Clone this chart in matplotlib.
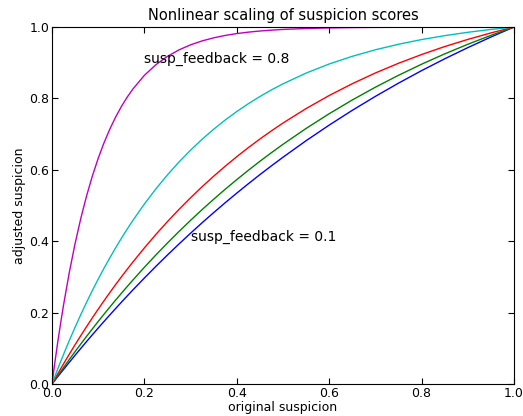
import numpy as np
import matplotlib
matplotlib.use("Agg")
import matplotlib.pyplot as plt

orig = [0.0, 0.00625, 0.0125, 0.01875, 0.025, 0.0375, 0.05, 0.0625, 0.075, 0.0875,
        0.1, 0.1125, 0.125, 0.1375, 0.15, 0.1625, 0.175, 0.2, 0.225, 0.25,
        0.275, 0.3, 0.325, 0.35, 0.375, 0.4, 0.425, 0.45, 0.475, 0.5,
        0.55, 0.6, 0.65, 0.7, 0.75, 0.8, 0.85, 0.9, 0.95, 1.0]

adj_blue = [0.0, 0.0103, 0.0206, 0.0307, 0.0408, 0.0608, 0.0805, 0.1000, 0.1192, 0.1381,
            0.1567, 0.1751, 0.1932, 0.2111, 0.2288, 0.2462, 0.2634, 0.2970, 0.3297, 0.3615,
            0.3924, 0.4225, 0.4518, 0.4802, 0.5079, 0.5348, 0.5610, 0.5865, 0.6112, 0.6353,
            0.6816, 0.7253, 0.7667, 0.8058, 0.8428, 0.8779, 0.9110, 0.9423, 0.9720, 1.0]
adj_green = [0.0, 0.0117, 0.0233, 0.0348, 0.0462, 0.0686, 0.0907, 0.1124, 0.1337, 0.1546,
             0.1752, 0.1954, 0.2152, 0.2347, 0.2538, 0.2726, 0.2911, 0.3270, 0.3617, 0.3951,
             0.4274, 0.4586, 0.4887, 0.5176, 0.5457, 0.5726, 0.5987, 0.6239, 0.6481, 0.6715,
             0.7159, 0.7572, 0.7957, 0.8315, 0.8648, 0.8959, 0.9248, 0.9517, 0.9767, 1.0]
adj_red = [0.0, 0.0144, 0.0286, 0.0426, 0.0564, 0.0836, 0.1101, 0.1359, 0.1611, 0.1857,
           0.2096, 0.2330, 0.2558, 0.2781, 0.2998, 0.3209, 0.3415, 0.3813, 0.4191, 0.4551,
           0.4893, 0.5218, 0.5528, 0.5822, 0.6102, 0.6369, 0.6622, 0.6863, 0.7092, 0.7311,
           0.7716, 0.8082, 0.8413, 0.8713, 0.8985, 0.9230, 0.9453, 0.9653, 0.9835, 1.0]
adj_cyan = [0.0, 0.0214, 0.0423, 0.0628, 0.0828, 0.1218, 0.1591, 0.1948, 0.2292, 0.2622,
            0.2937, 0.3241, 0.3531, 0.3810, 0.4078, 0.4334, 0.4580, 0.5043, 0.5468, 0.5860,
            0.6221, 0.6552, 0.6857, 0.7138, 0.7396, 0.7634, 0.7852, 0.8054, 0.8239, 0.8409,
            0.8710, 0.8965, 0.9180, 0.9363, 0.9518, 0.9649, 0.9759, 0.9853, 0.9933, 1.0]
adj_magenta = [0.0, 0.0606, 0.1175, 0.1710, 0.2212, 0.3127, 0.3935, 0.4647, 0.5276, 0.5831,
               0.6321, 0.6754, 0.7135, 0.7472, 0.7769, 0.8031, 0.8262, 0.8647, 0.8946, 0.9179,
               0.9361, 0.9502, 0.9612, 0.9698, 0.9765, 0.9817, 0.9857, 0.9889, 0.9913, 0.9933,
               0.9959, 0.9975, 0.9985, 0.9991, 0.9994, 0.9997, 0.9998, 0.9999, 1.0, 1.0]

series = [
    (adj_blue, (0, 0, 1)),
    (adj_green, (0, 0.5, 0)),
    (adj_red, (1, 0, 0)),
    (adj_cyan, (0, 0.75, 0.75)),
    (adj_magenta, (0.75, 0, 0.75)),
]

ticks = [0.0, 0.2, 0.4, 0.6, 0.8, 1.0]

fig = plt.figure(figsize=(5.23, 4.16), dpi=100)
ax = fig.add_axes([0.0994, 0.0769, 0.8834, 0.8581])

for vals, col in series:
    ax.plot(orig, vals, color=col, linewidth=1.0)

ax.text(0.2, 0.9, "susp_feedback = 0.8", fontsize=10)
ax.text(0.3, 0.4, "susp_feedback = 0.1", fontsize=10)

ax.set_xlim(0, 1)
ax.set_ylim(0, 1)
ax.set_xticks(ticks)
ax.set_yticks(ticks)
ax.set_xticklabels(["%.1f" % t for t in ticks])
ax.set_yticklabels(["%.1f" % t for t in ticks])
ax.tick_params(direction="in", top=True, right=True, length=4, labelsize=9, pad=2)
ax.set_xlabel("original suspicion", fontsize=9, labelpad=1)
ax.set_ylabel("adjusted suspicion", fontsize=9, labelpad=2)
ax.set_title("Nonlinear scaling of suspicion scores", fontsize=10.5, pad=5)

fig.savefig("out.png", dpi=100)
